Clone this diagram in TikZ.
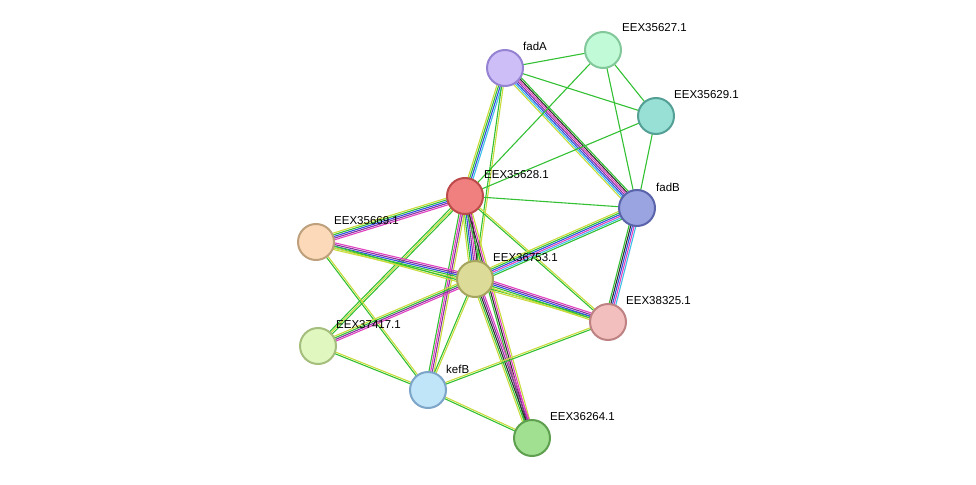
\documentclass[tikz,border=0pt]{standalone}
\usepackage{fontspec}
\setmainfont{Liberation Sans}
\usetikzlibrary{calc}

\definecolor{cgreen}{HTML}{33C033}
\definecolor{cyell}{HTML}{C8DC3C}
\definecolor{cblue}{HTML}{3050E0}
\definecolor{cpurp}{HTML}{8830A0}
\definecolor{cpink}{HTML}{E040C0}
\definecolor{ccyan}{HTML}{40C0E8}
\definecolor{cblack}{HTML}{303030}

\tikzset{
  prot/.style = {shape=circle, minimum size=36pt, line width=2pt, inner sep=0pt},
  lbl/.style  = {font=\fontsize{11.5}{13}\selectfont, anchor=west, inner sep=0pt},
  edge/.style = {line width=1.1pt}
}

% link a--b with one strand per colour
\newcommand{\lnk}[3]{%
  \def\nstr{0}%
  \foreach \c in {#3} {\pgfmathtruncatemacro{\tmp}{\nstr+1}\global\let\nstr\tmp}%
  \foreach \c [count=\i] in {#3} {%
    \pgfmathsetmacro{\off}{(\i-(\nstr+1)/2)*1.7}%
    \draw[edge, \c] ($(#1)!\off pt!90:(#2)$) -- ($(#2)!\off pt!-90:(#1)$);
  }%
}

\begin{document}
\begin{tikzpicture}[x=1pt, y=-1pt]
\useasboundingbox (0,0) rectangle (976,484);

\coordinate (fadA) at (505,68);
\coordinate (p27)  at (603,50);
\coordinate (p29)  at (656,116);
\coordinate (p28)  at (465,196);
\coordinate (fadB) at (637,208);
\coordinate (p69)  at (316,242);
\coordinate (p53)  at (475,279);
\coordinate (p25)  at (608,322);
\coordinate (p17)  at (318,346);
\coordinate (kefB) at (428,390);
\coordinate (p64)  at (532,438);

% links
\lnk{fadA}{p27}{cgreen}
\lnk{fadA}{p29}{cgreen}
\lnk{fadA}{fadB}{cyell,ccyan,cblue,cpurp,cpink,cblack,cgreen}
\lnk{fadA}{p28}{cyell,cgreen,cblue,ccyan}
\lnk{fadA}{p53}{cgreen,cyell}
\lnk{p27}{p29}{cgreen}
\lnk{p27}{fadB}{cgreen}
\lnk{p27}{p28}{cgreen}
\lnk{p29}{fadB}{cgreen}
\lnk{p29}{p28}{cgreen}
\lnk{p28}{fadB}{cgreen}
\lnk{p28}{p69}{cyell,cgreen,cblue,cpurp,cpink}
\lnk{p28}{p53}{cyell,cgreen,cblue,cpurp,cpink,cblack}
\lnk{p28}{p25}{cgreen,cyell}
\lnk{p28}{p17}{cgreen,cyell,cgreen}
\lnk{p28}{kefB}{cgreen,cpink,cpurp,cyell}
\lnk{p28}{p64}{cgreen,cblack,cpink,cyell}
\lnk{fadB}{p53}{cyell,cgreen,cblue,cpink,ccyan,cgreen}
\lnk{fadB}{p25}{cgreen,cblack,cblue,cpink,ccyan}
\lnk{p69}{p53}{cyell,cgreen,cblue,cpurp,cpink}
\lnk{p69}{p25}{cyell,cgreen}
\lnk{p69}{kefB}{cgreen,cyell}
\lnk{p53}{p25}{cyell,cgreen,cblue,cpurp,cpink}
\lnk{p53}{p17}{cyell,cgreen,cpurp,cpink}
\lnk{p53}{kefB}{cgreen,cyell}
\lnk{p53}{p64}{cyell,cgreen,cblack,cpurp,cpink}
\lnk{p17}{kefB}{cgreen,cyell}
\lnk{kefB}{p25}{cgreen,cyell}
\lnk{kefB}{p64}{cgreen,cyell}

% proteins
\node[prot, fill={rgb,255:red,205;green,190;blue,248}, draw={rgb,255:red,150;green,130;blue,210}] (nfadA) at (fadA) {};
\node[prot, fill={rgb,255:red,192;green,250;blue,214}, draw={rgb,255:red,130;green,200;blue,155}] (n27) at (p27) {};
\node[prot, fill={rgb,255:red,152;green,224;blue,214}, draw={rgb,255:red,85;green,160;blue,150}] (n29) at (p29) {};
\node[prot, fill={rgb,255:red,240;green,128;blue,128}, draw={rgb,255:red,190;green,75;blue,75}] (n28) at (p28) {};
\node[prot, fill={rgb,255:red,154;green,164;blue,224}, draw={rgb,255:red,90;green,100;blue,170}] (nfadB) at (fadB) {};
\node[prot, fill={rgb,255:red,252;green,218;blue,185}, draw={rgb,255:red,190;green,160;blue,125}] (n69) at (p69) {};
\node[prot, fill={rgb,255:red,220;green,220;blue,152}, draw={rgb,255:red,165;green,165;blue,95}] (n53) at (p53) {};
\node[prot, fill={rgb,255:red,243;green,190;blue,190}, draw={rgb,255:red,190;green,130;blue,130}] (n25) at (p25) {};
\node[prot, fill={rgb,255:red,224;green,248;blue,192}, draw={rgb,255:red,165;green,190;blue,125}] (n17) at (p17) {};
\node[prot, fill={rgb,255:red,192;green,228;blue,248}, draw={rgb,255:red,125;green,165;blue,200}] (nkefB) at (kefB) {};
\node[prot, fill={rgb,255:red,160;green,224;blue,144}, draw={rgb,255:red,95;green,160;blue,80}] (n64) at (p64) {};

% labels
\node[lbl] (tfadA) at ($(fadA)+(18,-22)$) {fadA};
\node[lbl] (t27)   at ($(p27)+(19,-22)$) {EEX35627.1};
\node[lbl] (t29)   at ($(p29)+(18,-21)$) {EEX35629.1};
\node[lbl] (t28)   at ($(p28)+(19,-21)$) {EEX35628.1};
\node[lbl] (tfadB) at ($(fadB)+(19,-21)$) {fadB};
\node[lbl] (t69)   at ($(p69)+(18,-21)$) {EEX35669.1};
\node[lbl] (t53)   at ($(p53)+(18,-21)$) {EEX36753.1};
\node[lbl] (t25)   at ($(p25)+(18,-21)$) {EEX38325.1};
\node[lbl] (t17)   at ($(p17)+(18,-21)$) {EEX37417.1};
\node[lbl] (tkefB) at ($(kefB)+(18,-21)$) {kefB};
\node[lbl] (t64)   at ($(p64)+(18,-21)$) {EEX36264.1};
\end{tikzpicture}
\end{document}
